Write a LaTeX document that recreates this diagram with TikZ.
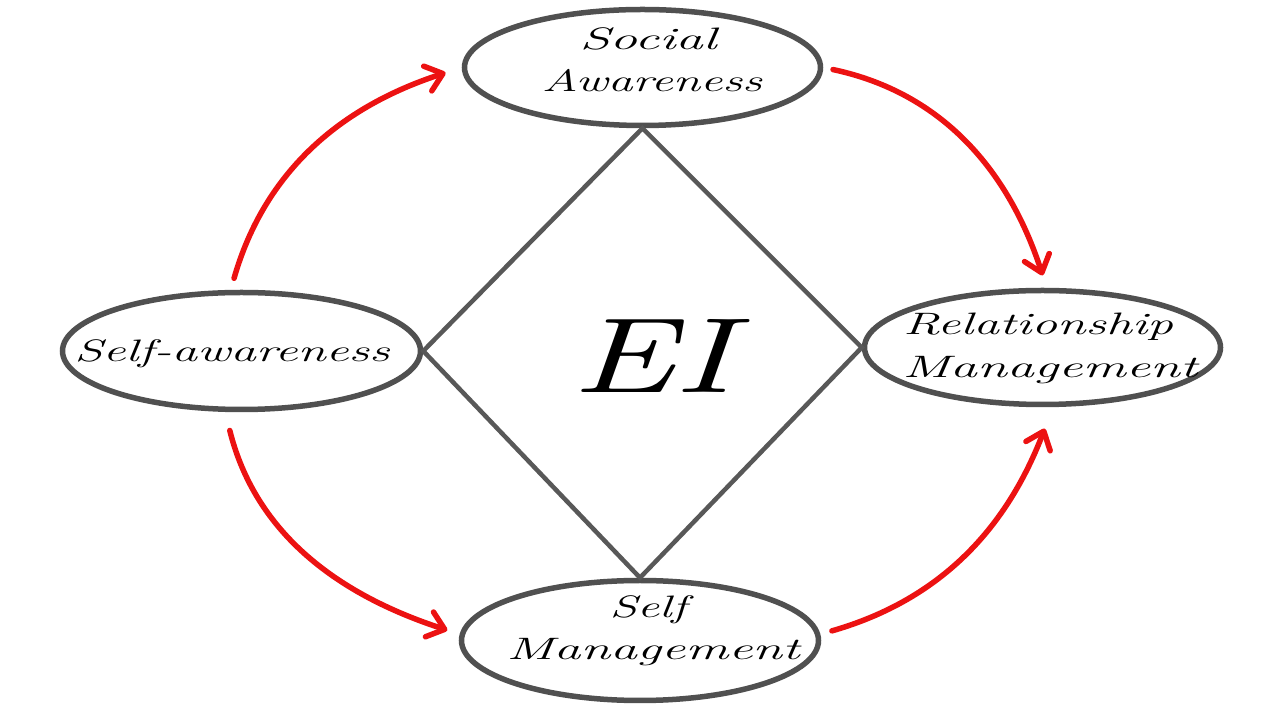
\documentclass[tikz,border=0pt]{standalone}
\usepackage{graphicx}
\usetikzlibrary{shapes.geometric,arrows.meta}
\definecolor{ringgray}{RGB}{80,80,80}
\definecolor{diagray}{RGB}{88,88,88}
\definecolor{arrowred}{RGB}{236,18,18}
\newcommand\hwtext[2]{\resizebox{#1}{\height}{\itshape #2}}
\begin{document}
\begin{tikzpicture}[x=1pt,y=1pt,
  ring/.style={ellipse,draw=ringgray,line width=5.5pt,fill=white,inner sep=0pt},
  lbl/.style={anchor=base,inner sep=0pt,font=\fontsize{31}{36}\selectfont},
  flow/.style={draw=arrowred,line width=5.5pt,line cap=round,
    -{Straight Barb[length=16pt,width=26pt,round]}},
  diag/.style={draw=diagray,line width=4.5pt,line join=miter}]
\fill[white] (0,0) rectangle (1280,720);
\useasboundingbox (0,0) rectangle (1280,720);

% ellipses
\node[ring,minimum width=356pt,minimum height=116pt] (soc) at (642.5,652.5) {};
\node[ring,minimum width=358pt,minimum height=117pt] (sa) at (241.5,369) {};
\node[ring,minimum width=356pt,minimum height=114pt] (rel) at (1042.5,372.5) {};
\node[ring,minimum width=357pt,minimum height=120pt] (sm) at (640,79.5) {};

% diamond
\draw[diag] (soc.south) -- (sa.east) -- (sm.north) -- (rel.west) -- cycle;

% labels
\node[lbl] (socA) at (648,670) {\hwtext{137pt}{Social}};
\node[lbl] (socB) at (652,628) {\hwtext{220pt}{Awareness}};
\node[lbl] (saA) at (232,358) {\hwtext{315pt}{Self-awareness}};
\node[lbl] (relA) at (1038,385) {\hwtext{270pt}{Relationship}};
\node[lbl] (relB) at (1050,342) {\hwtext{295pt}{Management}};
\node[lbl] (smA) at (648,102) {\hwtext{77pt}{Self}};
\node[lbl] (smB) at (653,60) {\hwtext{293pt}{Management}};
\node[anchor=base,inner sep=0pt] (ei) at (653,327) {\resizebox{160pt}{73pt}{\itshape EI}};

% arrows
\draw[flow,shorten <=12pt,shorten >=17pt] (sa.100) to[out=74,in=198] (soc.west);
\draw[flow,shorten <=10pt,shorten >=13pt] (soc.east) to[out=-12,in=108] (rel.86);
\draw[flow,shorten <=19pt,shorten >=13pt] (sa.255) to[out=-76,in=162] (sm.178);
\draw[flow,shorten <=12pt,shorten >=23pt] (sm.2) to[out=16,in=249] (rel.-80);
\end{tikzpicture}
\end{document}
